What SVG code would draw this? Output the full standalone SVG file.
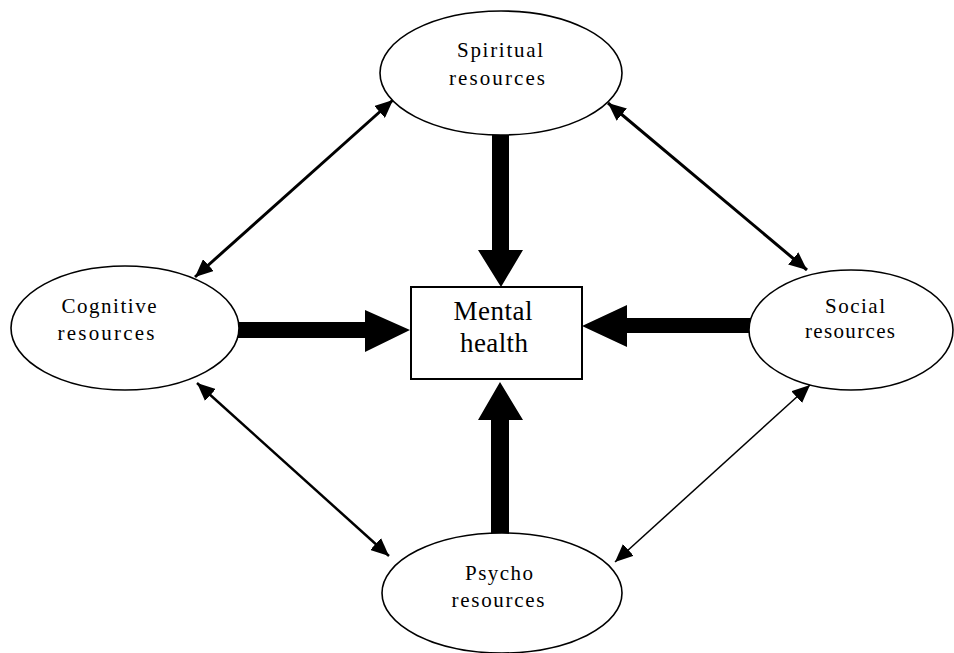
<svg xmlns="http://www.w3.org/2000/svg" width="954" height="653" viewBox="0 0 954 653">
<style>
.node{fill:#fff;stroke:#000;stroke-width:1.6}
.box{stroke-width:2}
.lbl{font-family:"Liberation Serif","Times New Roman",serif;font-size:21px;fill:#000;text-anchor:middle}
.big{font-size:27px}
.thick{fill:#000;stroke:none}
.dbl{stroke:#000;fill:none}
</style>
<defs>
<marker id="ah" viewBox="0 0 18 16" refX="18" refY="8" markerWidth="18" markerHeight="16" markerUnits="userSpaceOnUse" orient="auto-start-reverse">
<path d="M0,0 L18,8 L0,16 z" fill="#000"/>
</marker>
</defs>
<rect width="954" height="653" fill="#fff"/>
<g id="connectors">
<path class="thick" d="M492,133 L509,133 L509,250 L523,250 L501,287 L478,250 L492,250 z"/>
<path class="thick" d="M491,533 L509,533 L509,420 L523,420 L500,382 L478,420 L491,420 z"/>
<path class="thick" d="M238,322 L365,322 L365,310 L410,330 L365,352 L365,338 L238,338 z"/>
<path class="thick" d="M752,318 L627,318 L627,305 L582,326 L627,347 L627,333 L752,333 z"/>
<line class="dbl" x1="195" y1="277" x2="393" y2="100" stroke-width="3" marker-start="url(#ah)" marker-end="url(#ah)"/>
<line class="dbl" x1="608" y1="103" x2="807" y2="270" stroke-width="3" marker-start="url(#ah)" marker-end="url(#ah)"/>
<line class="dbl" x1="810" y1="385" x2="615" y2="562" stroke-width="1.5" marker-start="url(#ah)" marker-end="url(#ah)"/>
<line class="dbl" x1="197" y1="383" x2="389" y2="556" stroke-width="2.5" marker-start="url(#ah)" marker-end="url(#ah)"/>
</g>
<g id="spiritual">
<ellipse class="node" cx="501" cy="73" rx="121" ry="62"/>
<text class="lbl" x="500" y="57" textLength="86" lengthAdjust="spacing">Spiritual</text>
<text class="lbl" x="497" y="85" textLength="96" lengthAdjust="spacing">resources</text>
</g>
<g id="mental">
<rect class="node box" x="411" y="287" width="171" height="92"/>
<text class="lbl big" x="493" y="320" textLength="79" lengthAdjust="spacing">Mental</text>
<text class="lbl big" x="494" y="352" textLength="68" lengthAdjust="spacing">health</text>
</g>
<g id="cognitive">
<ellipse class="node" cx="125" cy="328" rx="114" ry="62"/>
<text class="lbl" x="109" y="313" textLength="95" lengthAdjust="spacing">Cognitive</text>
<text class="lbl" x="106" y="340" textLength="97" lengthAdjust="spacing">resources</text>
</g>
<g id="social">
<ellipse class="node" cx="851" cy="330" rx="102" ry="60"/>
<text class="lbl" x="855" y="313" textLength="60" lengthAdjust="spacing">Social</text>
<text class="lbl" x="850" y="338" textLength="90" lengthAdjust="spacing">resources</text>
</g>
<g id="psycho">
<ellipse class="node" cx="502" cy="593" rx="120" ry="60"/>
<text class="lbl" x="499" y="580" textLength="68" lengthAdjust="spacing">Psycho</text>
<text class="lbl" x="498" y="607" textLength="93" lengthAdjust="spacing">resources</text>
</g>
</svg>
